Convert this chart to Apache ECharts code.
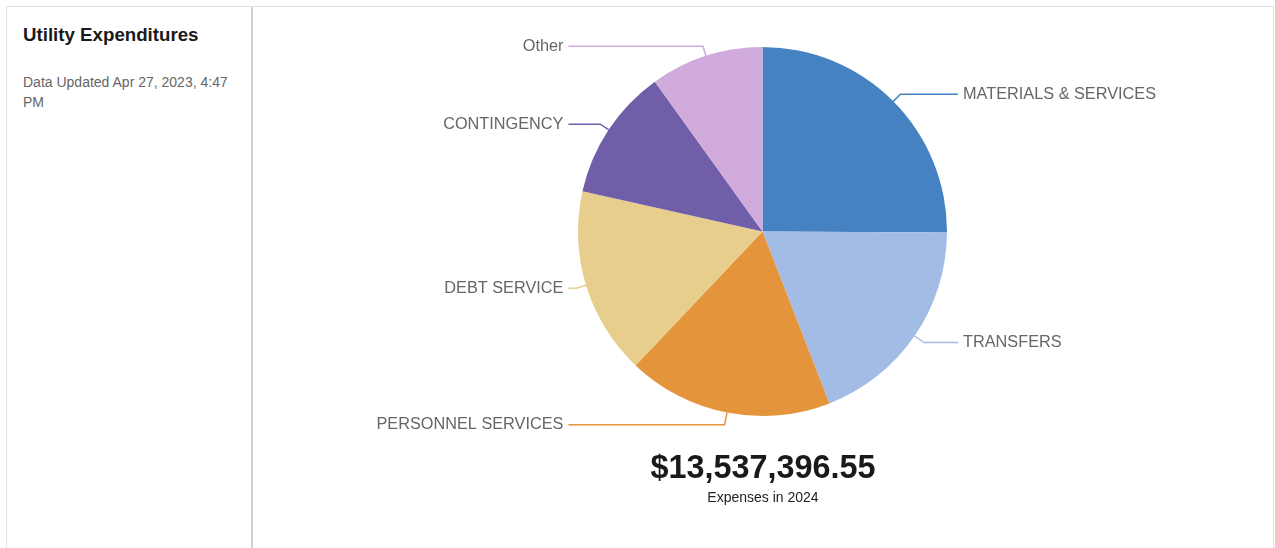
<!DOCTYPE html>
<html>
<head>
<meta charset="utf-8">
<script src="https://cdn.jsdelivr.net/npm/echarts@6/dist/echarts.min.js"></script>
<style>
  html, body { margin: 0; padding: 0; background: #fff; }
  body { width: 1275px; height: 548px; position: relative; overflow: hidden; font-family: "Liberation Sans", Arial, sans-serif; }
  #panel { position: absolute; left: 6px; top: 6px; width: 1266px; height: 600px; border: 1px solid #dfe2e6; border-bottom: none; }
  #sidebar { position: absolute; left: 0; top: 0; width: 244px; height: 100%; border-right: 2px solid #cfd3d7; }
  #title { position: absolute; left: 16px; top: 17px; font-size: 18.7px; line-height: 22px; font-weight: bold; color: #1a1a1a; white-space: nowrap; }
  #updated { position: absolute; left: 16px; top: 65px; width: 212px; font-size: 14px; line-height: 20px; color: #666; }
  #chart { position: absolute; left: 0; top: 0; width: 1275px; height: 548px; }
</style>
</head>
<body>
<div id="panel">
  <div id="sidebar">
    <div id="title">Utility Expenditures</div>
    <div id="updated">Data Updated Apr 27, 2023, 4:47 PM</div>
  </div>
</div>
<div id="chart"></div>
<script>
// ---- data ----
const categories = ['MATERIALS & SERVICES', 'TRANSFERS', 'PERSONNEL SERVICES', 'DEBT SERVICE', 'CONTINGENCY', 'Other'];
const values = [3394996.55, 2573300, 2435400, 2224200, 1567600, 1341900];
const colors = ['#4682c1', '#a3bce5', '#e4943a', '#e8ce8c', '#715ea8', '#cfaada'];
const subtitle = 'Expenses in 2024';

// ---- build ----
const total = values.reduce((a, b) => a + b, 0);
function fmtMoney(v) {
  const parts = v.toFixed(2).split('.');
  return '$' + parts[0].replace(/\B(?=(\d{3})+(?!\d))/g, ',') + '.' + parts[1];
}
const rightSide = [true, true, false, false, false, false];
const lineLen = [10, 11.5, 12.5, 10, 10, 10];
const data = categories.map((c, i) => ({
  name: c,
  value: values[i],
  itemStyle: { color: colors[i] },
  labelLine: { length: lineLen[i], length2: rightSide[i] ? 34 : 8 }
}));

const chart = echarts.init(document.getElementById('chart'), null, { renderer: 'canvas' });
chart.setOption({
  animation: false,
  backgroundColor: 'transparent',
  series: [{
    type: 'pie',
    center: [762.5, 231.5],
    radius: 184.5,
    startAngle: 90,
    clockwise: true,
    data: data,
    itemStyle: { borderWidth: 0 },
    label: {
      show: true,
      position: 'outer',
      alignTo: 'labelLine',
      distanceToLabelLine: 5,
      formatter: '{b}',
      color: '#666',
      fontSize: 16.3,
      fontFamily: 'Liberation Sans, Arial, sans-serif'
    },
    labelLine: { show: true, length: 10, length2: 8, lineStyle: { width: 1.5 } },
    emphasis: { disabled: true }
  }],
  graphic: [
    {
      type: 'text',
      style: {
        text: fmtMoney(total),
        x: 763, y: 469,
        textAlign: 'center', textVerticalAlign: 'middle',
        font: 'bold 32.4px "Liberation Sans", Arial, sans-serif',
        fill: '#1a1a1a'
      }
    },
    {
      type: 'text',
      style: {
        text: subtitle,
        x: 763, y: 498,
        textAlign: 'center', textVerticalAlign: 'middle',
        font: '14px "Liberation Sans", Arial, sans-serif',
        fill: '#222'
      }
    }
  ]
});
</script>
</body>
</html>
